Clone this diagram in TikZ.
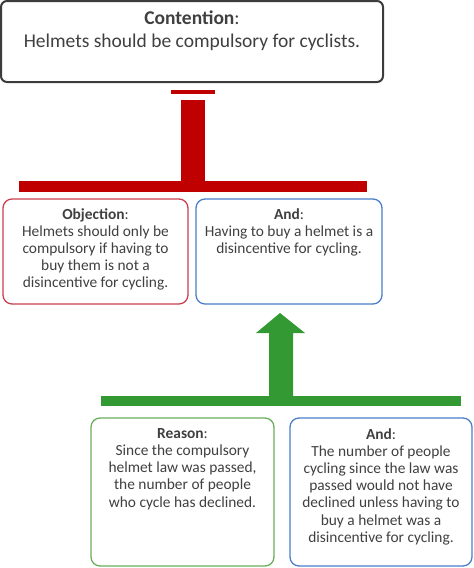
\documentclass[tikz,border=0pt]{standalone}
\usepackage{fontspec}
\setmainfont{Carlito}
\definecolor{txt}{HTML}{404040}
\definecolor{cred}{HTML}{C00000}
\definecolor{cgreen}{HTML}{339933}
\definecolor{bred}{HTML}{C9404E}
\definecolor{bblue}{HTML}{4A7EC8}
\definecolor{bgreen}{HTML}{6AAE5C}
\definecolor{bgray}{HTML}{3C3C3C}
\begin{document}
\begin{tikzpicture}[x=1pt,y=-1pt,
  box/.style={draw, line width=1.3pt, rounded corners=9pt, fill=white},
  txtnode/.style={anchor=north, align=center, text=txt, inner sep=0pt,
     font=\fontsize{15.4}{17.1}\selectfont}]
\useasboundingbox (0,0) rectangle (474,568);
% contention
\draw[line width=2pt, draw=bgray, rounded corners=6pt, fill=white] (1,1) rectangle (383,82);
\node (cont) [txtnode, font=\fontsize{19.5}{23}\selectfont] at (192,11)
  {\textbf{Contention}:\\Helmets should be compulsory for cyclists.};
% red objection connector
\fill[cred] (171,90) rectangle (215,94);
\fill[cred] (181,100) rectangle (205,186);
\fill[cred] (19,181) rectangle (367,192);
% boxes row 1
\draw[box, draw=bred] (3,199) rectangle (188,304);
\node (obj) [txtnode] at (95.5,208.5)
  {\textbf{Objection}:\\Helmets should only be\\compulsory if having to\\buy them is not a\\disincentive for cycling.};
\draw[box, draw=bblue] (196,199) rectangle (382,304);
\node (and1) [txtnode] at (289,208.5)
  {\textbf{And}:\\Having to buy a helmet is a\\disincentive for cycling.};
% green arrow
\fill[cgreen] (280,313) -- (305,333) -- (293,333) -- (293,400) -- (269,400) -- (269,333) -- (256,333) -- cycle;
\fill[cgreen] (101,396) rectangle (461,406);
% boxes row 2
\draw[box, draw=bgreen] (91,418) rectangle (274,566);
\node (reason) [txtnode] at (182.5,428.5)
  {\textbf{Reason}:\\Since the compulsory\\helmet law was passed,\\the number of people\\who cycle has declined.};
\draw[box, draw=bblue] (290,418) rectangle (472,566);
\node (and2) [txtnode] at (381,428.5)
  {\textbf{And}:\\The number of people\\cycling since the law was\\passed would not have\\declined unless having to\\buy a helmet was a\\disincentive for cycling.};
\end{tikzpicture}
\end{document}
